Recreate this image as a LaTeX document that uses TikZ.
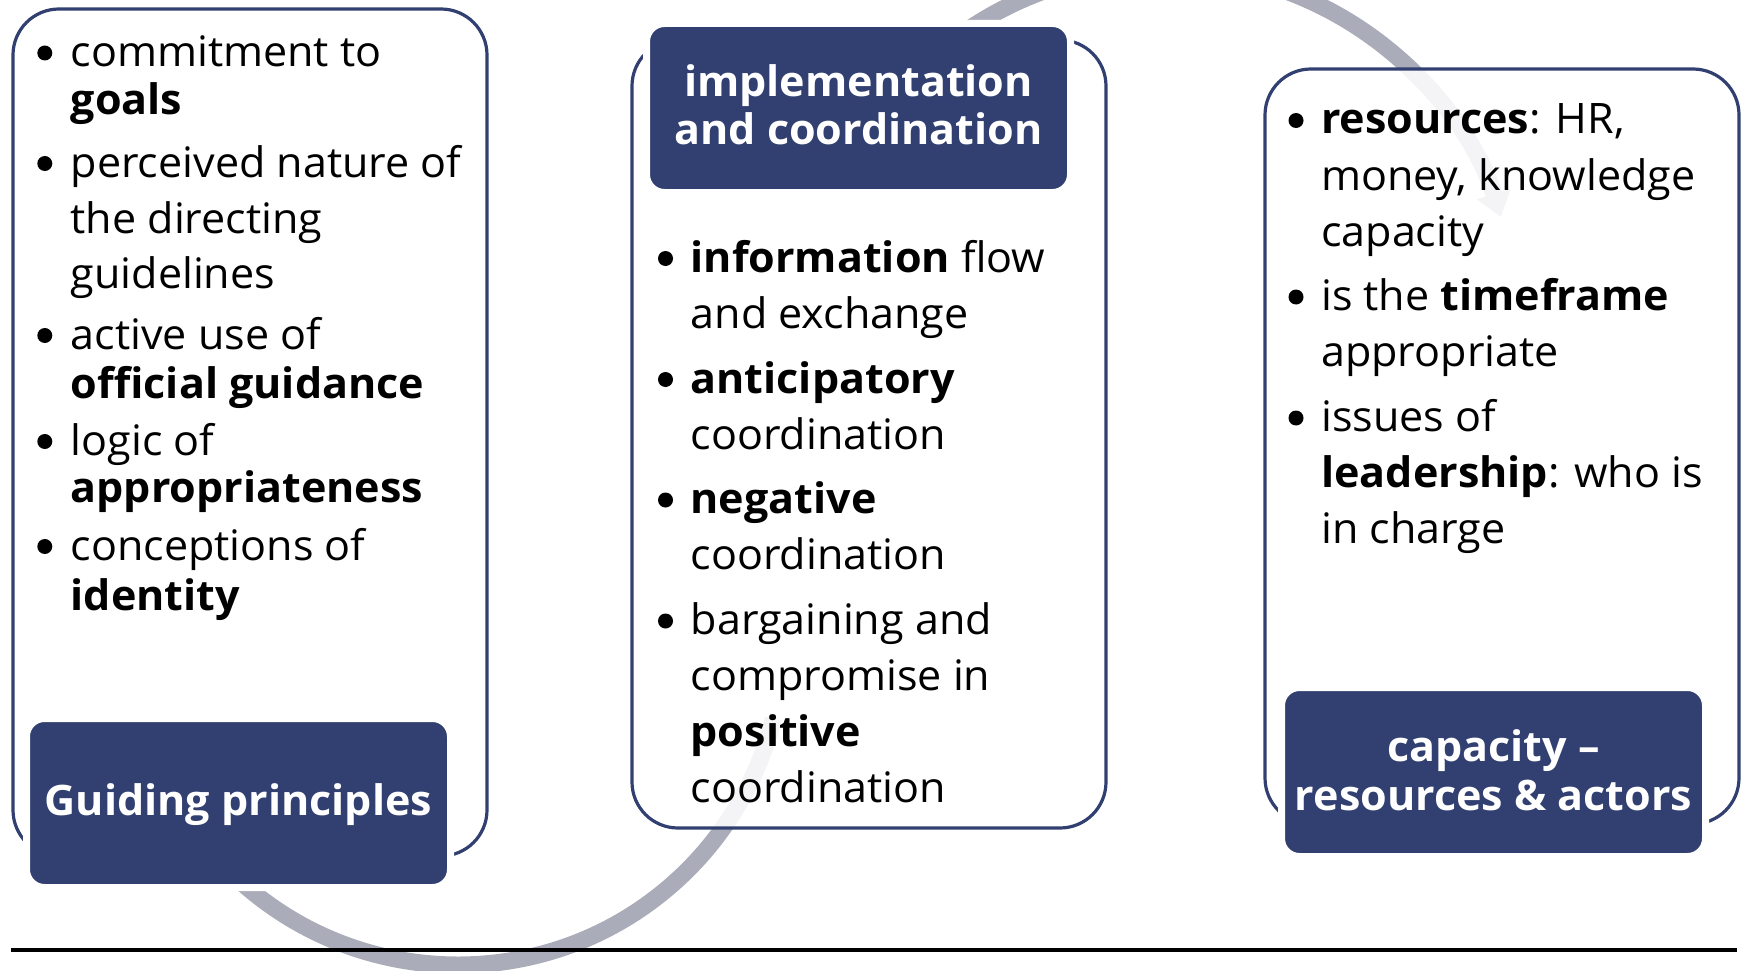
\documentclass[tikz,border=0pt]{standalone}
\usepackage{fontspec}
\setmainfont{Open Sans}[FakeStretch=1.025]
\usetikzlibrary{arrows.meta}
\definecolor{navy}{RGB}{49,64,112}
\definecolor{arcgrey}{RGB}{170,172,186}
\begin{document}
\begin{tikzpicture}[x=1pt,y=1pt,
  outerbox/.style={draw=navy, line width=3.2pt, fill=white, fill opacity=0.88,
    rounded corners=46pt, inner sep=0pt, outer sep=0pt, anchor=north west},
  titlebox/.style={draw=white, line width=7pt, fill=navy, rounded corners=18pt,
    inner sep=0pt, outer sep=0pt, anchor=north west,
    minimum width=424pt, minimum height=169pt},
  arcline/.style={draw=arcgrey, line width=17pt},
  rule/.style={draw=black, line width=3.4pt},
  txt/.style={anchor=base west, inner sep=0pt, font=\fontsize{42}{48}\selectfont},
  ttl/.style={anchor=base, inner sep=0pt, text=white, font=\fontsize{42}{48}\selectfont\bfseries},
  bul/.style={circle, fill=black, inner sep=0pt, minimum size=15pt},
]
\useasboundingbox (0,0) rectangle (1743,-971);

% grey arcs (behind everything)
\coordinate (c1) at (458,-640);
\coordinate (c2) at (1164.8,-321.6);
\draw[arcline] (c1) ++(222:325) arc[start angle=222, end angle=346, radius=325];
\draw[arcline, -{Triangle[width=34pt,length=24pt]}] (c2) ++(150:352) arc[start angle=150, end angle=17.3, radius=352];

% outer white boxes
\node[outerbox, minimum width=474pt, minimum height=847pt] (lbox) at (13,-9) {};
\node[outerbox, minimum width=474pt, minimum height=788pt] (mbox) at (632,-40) {};
\node[outerbox, minimum width=474pt, minimum height=755pt] (rbox) at (1265,-69) {};

% navy title boxes
\node[titlebox] (gbox) at (26.5,-718.5) {};
\node[titlebox] (hbox) at (646.5,-23.5) {};
\node[titlebox] (cbox) at (1281.5,-687.5) {};

% bottom rule
\coordinate (ra) at (11,-950);
\coordinate (rb) at (1737,-950);
\draw[rule] (ra) -- (rb);

% titles
\node[ttl] (h1) at (858.5,-96.7) {implementation};
\node[ttl] (h2) at (858.5,-145) {and coordination};
\node[ttl] (gp) at (238.5,-815) {Guiding principles};
\node[ttl] (ct1) at (1493.5,-761.7) {capacity –};
\node[ttl] (ct2) at (1493.5,-810) {resources \& actors};

% left box
\node[bul] (gb1) at (44.8,-53) {};
\node[txt] (g1) at (70.5,-66.5) {commitment to};
\node[txt] (g2) at (70.5,-115) {\textbf{goals}};
\node[bul] (gb2) at (44.8,-163.5) {};
\node[txt] (g3) at (70.5,-177) {perceived nature of};
\node[txt] (g4) at (70.5,-233) {the directing};
\node[txt] (g5) at (70.5,-288) {guidelines};
\node[bul] (gb3) at (44.8,-335.5) {};
\node[txt] (g6) at (70.5,-349) {active use of};
\node[txt] (g7) at (70.5,-398) {\textbf{official guidance}};
\node[bul] (gb4) at (44.8,-441.5) {};
\node[txt] (g8) at (70.5,-455) {logic of};
\node[txt] (g9) at (70.5,-502.5) {\textbf{appropriateness}};
\node[bul] (gb5) at (44.8,-546.5) {};
\node[txt] (g10) at (70.5,-560) {conceptions of};
\node[txt] (g11) at (70.5,-610) {\textbf{identity}};

% middle box
\node[bul] (mb1) at (665.5,-258.5) {};
\node[txt] (m1) at (690.5,-272) {\textbf{information} flow};
\node[txt] (m2) at (690.5,-328) {and exchange};
\node[bul] (mb2) at (665.5,-379.5) {};
\node[txt] (m3) at (690.5,-393) {\textbf{anticipatory}};
\node[txt] (m4) at (690.5,-449.5) {coordination};
\node[bul] (mb3) at (665.5,-500) {};
\node[txt] (m5) at (690.5,-513.5) {\textbf{negative}};
\node[txt] (m6) at (690.5,-569.5) {coordination};
\node[bul] (mb4) at (665.5,-621) {};
\node[txt] (m7) at (690.5,-634.5) {bargaining and};
\node[txt] (m8) at (690.5,-690.5) {compromise in};
\node[txt] (m9) at (690.5,-746.5) {\textbf{positive}};
\node[txt] (m10) at (690.5,-802.5) {coordination};

% right box
\node[bul] (rb1) at (1296,-120.5) {};
\node[txt] (r1) at (1321,-134) {\textbf{resources}: HR,};
\node[txt] (r2) at (1321,-190.5) {money, knowledge};
\node[txt] (r3) at (1321,-246) {capacity};
\node[bul] (rb2) at (1296,-297) {};
\node[txt] (r4) at (1321,-310.5) {is the \textbf{timeframe}};
\node[txt] (r5) at (1321,-366) {appropriate};
\node[bul] (rb3) at (1296,-418) {};
\node[txt] (r6) at (1321,-431.5) {issues of};
\node[txt] (r7) at (1321,-487) {\textbf{leadership}: who is};
\node[txt] (r8) at (1321,-543) {in charge};
\end{tikzpicture}
\end{document}
